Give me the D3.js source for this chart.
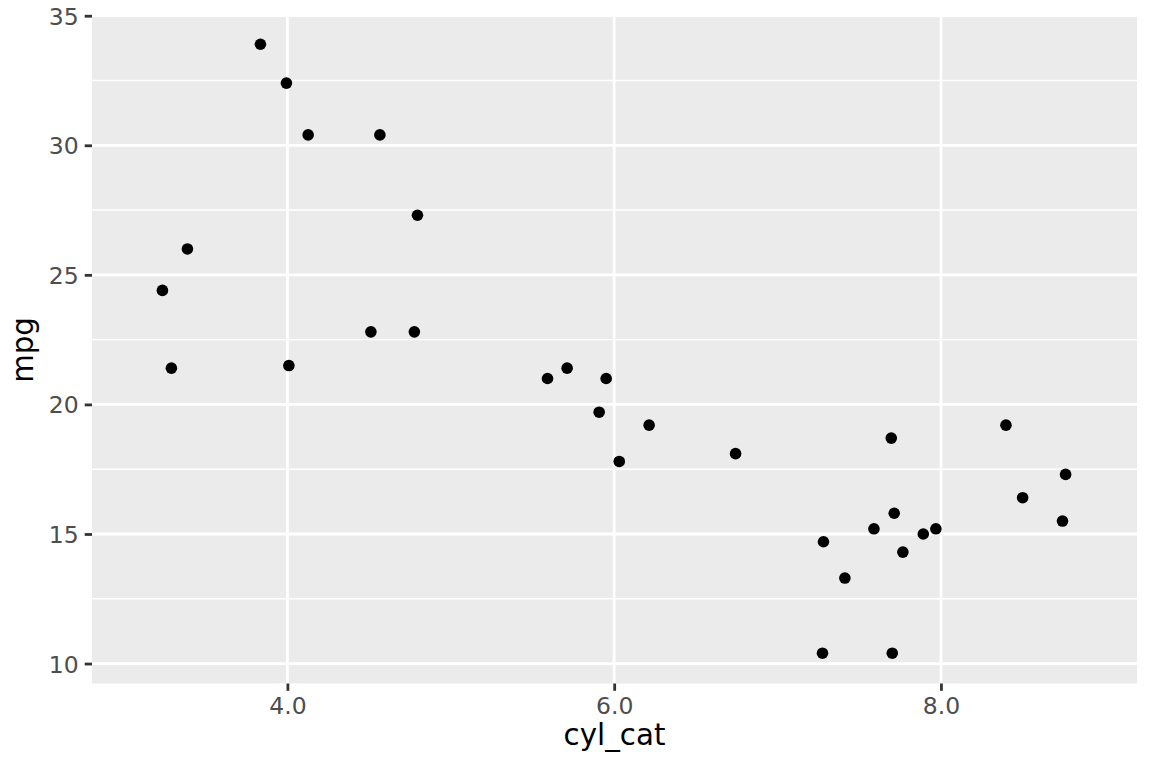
<!DOCTYPE html>
<html>
<head>
    <meta charset="utf-8">
    <title>mpg by cyl_cat</title>
    <script src="https://d3js.org/d3.v7.min.js"></script>
    <style>
        body, html {
            margin: 0;
            padding: 0;
            background: #ffffff;
        }
        svg {
            display: block;
        }
        text {
            font-family: "DejaVu Sans", sans-serif;
        }
    </style>
</head>
<body>
    <svg width="1152" height="768"></svg>
    <script>
        // jittered cylinder position and mpg
        const cylCat = [3.835, 3.994, 4.127, 4.566, 4.796, 3.388, 3.235, 4.511, 4.777, 3.290, 4.009,
                        5.592, 5.712, 5.951, 5.908, 6.214, 6.031, 6.743,
                        7.696, 8.398, 8.763, 8.500, 8.744, 7.714, 7.590, 7.969, 7.892, 7.281, 7.767, 7.412, 7.275, 7.702];
        const mpg = [33.9, 32.4, 30.4, 30.4, 27.3, 26.0, 24.4, 22.8, 22.8, 21.4, 21.5,
                     21.0, 21.4, 21.0, 19.7, 19.2, 17.8, 18.1,
                     18.7, 19.2, 17.3, 16.4, 15.5, 15.8, 15.2, 15.2, 15.0, 14.7, 14.3, 13.3, 10.4, 10.4];

        const xTicks = [4, 6, 8];
        const yTicks = [10, 15, 20, 25, 30, 35];
        const yMinor = [12.5, 17.5, 22.5, 27.5, 32.5];

        const points = cylCat.map((c, i) => ({x: c, y: mpg[i]}));

        const svg = d3.select("svg");
        const panel = {left: 92, right: 1137, top: 16.5, bottom: 683.5};

        const x = d3.scaleLinear().domain([2.804, 9.2]).range([panel.left, panel.right]);
        const y = d3.scaleLinear().domain([9.23, 34.97]).range([panel.bottom, panel.top]);

        // panel background
        svg.append("rect")
            .attr("x", panel.left)
            .attr("y", panel.top)
            .attr("width", panel.right - panel.left)
            .attr("height", panel.bottom - panel.top)
            .attr("fill", "#EBEBEB");

        const grid = svg.append("g");

        grid.selectAll("line.minor")
            .data(yMinor)
            .enter().append("line")
            .attr("class", "minor")
            .attr("x1", panel.left).attr("x2", panel.right)
            .attr("y1", d => y(d)).attr("y2", d => y(d))
            .attr("stroke", "#ffffff")
            .attr("stroke-width", 1.4);

        grid.selectAll("line.ymajor")
            .data(yTicks)
            .enter().append("line")
            .attr("class", "ymajor")
            .attr("x1", panel.left).attr("x2", panel.right)
            .attr("y1", d => y(d)).attr("y2", d => y(d))
            .attr("stroke", "#ffffff")
            .attr("stroke-width", 2.8);

        grid.selectAll("line.xmajor")
            .data(xTicks)
            .enter().append("line")
            .attr("class", "xmajor")
            .attr("y1", panel.top).attr("y2", panel.bottom)
            .attr("x1", d => x(d)).attr("x2", d => x(d))
            .attr("stroke", "#ffffff")
            .attr("stroke-width", 2.8);

        // points
        svg.append("g")
            .selectAll("circle")
            .data(points)
            .enter().append("circle")
            .attr("cx", d => x(d.x))
            .attr("cy", d => y(d.y))
            .attr("r", 5.8)
            .attr("fill", "#000000");

        // axes
        const xAxis = svg.append("g")
            .attr("transform", `translate(0,${panel.bottom})`)
            .call(d3.axisBottom(x).tickValues(xTicks).tickFormat(d3.format(".1f")).tickSize(7.3).tickPadding(6));
        const yAxis = svg.append("g")
            .attr("transform", `translate(${panel.left},0)`)
            .call(d3.axisLeft(y).tickValues(yTicks).tickSize(7.3).tickPadding(6));

        [xAxis, yAxis].forEach(ax => {
            ax.select(".domain").remove();
            ax.selectAll(".tick line").attr("stroke", "#333333").attr("stroke-width", 2.8);
            ax.selectAll(".tick text")
                .attr("fill", "#4D4D4D")
                .style("font-size", "23.5px")
                .style("font-family", "'DejaVu Sans', sans-serif");
        });
        xAxis.selectAll(".tick text").attr("dy", null).attr("y", 30.5);
        yAxis.selectAll(".tick text").attr("dy", "0.36em");

        // axis titles
        svg.append("text")
            .attr("x", (panel.left + panel.right) / 2)
            .attr("y", 745)
            .attr("text-anchor", "middle")
            .style("font-size", "29.3px")
            .attr("fill", "#000000")
            .text("cyl_cat");

        svg.append("text")
            .attr("transform", `translate(33,${(panel.top + panel.bottom) / 2}) rotate(-90)`)
            .attr("text-anchor", "middle")
            .style("font-size", "29.3px")
            .attr("fill", "#000000")
            .text("mpg");
    </script>
</body>
</html>
